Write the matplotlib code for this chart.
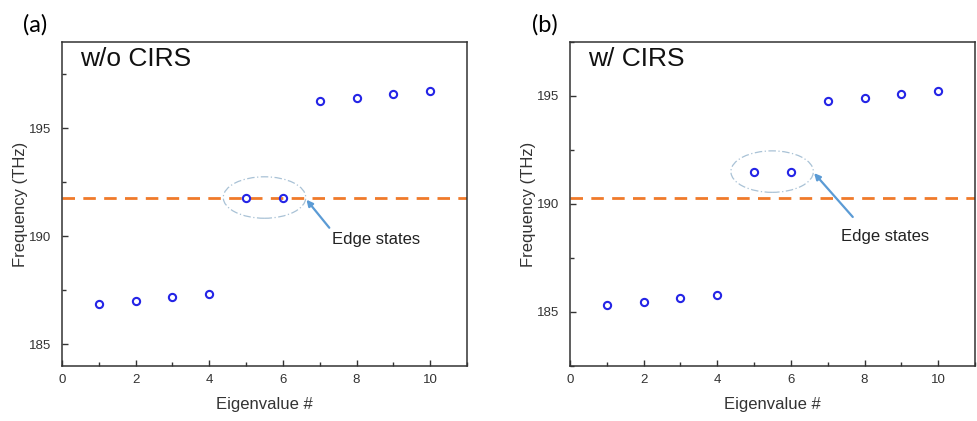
import matplotlib
matplotlib.use("Agg")
import matplotlib.pyplot as plt
from matplotlib.patches import Ellipse
from matplotlib.ticker import MultipleLocator

plt.rcParams["font.family"] = ["Liberation Sans", "DejaVu Sans"]

# data
eig_idx = [1, 2, 3, 4, 5, 6, 7, 8, 9, 10]
freq_wo = [186.85, 186.99, 187.19, 187.35, 191.79, 191.79, 196.28, 196.42, 196.61, 196.75]
freq_w = [185.31, 185.46, 185.65, 185.80, 191.48, 191.48, 194.77, 194.91, 195.09, 195.25]
line_wo = 191.78
line_w = 190.30
panel_tags = ["(a)", "(b)"]
panel_titles = ["w/o CIRS", "w/ CIRS"]
ylims = [(184, 199), (182.5, 197.5)]

fig = plt.figure(figsize=(9.77, 4.21), dpi=100)
axes = [fig.add_axes([62 / 977, 55 / 421, 405 / 977, 324 / 421]),
        fig.add_axes([570 / 977, 55 / 421, 405 / 977, 324 / 421])]

specs = [
    dict(freq=freq_wo, line=line_wo, ell=(5.5, 191.8), arrow_from=(7.26, 190.4),
         arrow_to=(6.64, 191.7), text=(7.34, 189.85)),
    dict(freq=freq_w, line=line_w, ell=(5.49, 191.5), arrow_from=(7.68, 189.4),
         arrow_to=(6.63, 191.43), text=(7.35, 188.5)),
]

for i, (ax, s) in enumerate(zip(axes, specs)):
    ax.axhline(s["line"], color="#f07a2a", lw=2.0, ls=(0, (4.5, 3.0)), zorder=1)
    ax.plot(eig_idx, s["freq"], "o", ms=5.2, mfc="none", mec="#2424e6", mew=1.5, zorder=3)
    ax.add_patch(Ellipse(s["ell"], 2.24, 1.92, fill=False, ec="#a9c2d6", lw=0.9,
                         ls=(0, (6, 2, 1, 2)), zorder=2))
    ax.annotate("", xy=s["arrow_to"], xytext=s["arrow_from"],
                arrowprops=dict(arrowstyle="-|>", color="#5b9bd5", lw=1.6,
                                mutation_scale=9, shrinkA=0, shrinkB=0))
    ax.text(*s["text"], "Edge states", fontsize=12, color="#222222", va="center", ha="left")
    ax.text(0.5, ylims[i][1] - 0.8, panel_titles[i], fontsize=19, color="#111111",
            va="center", ha="left")

    ax.set_xlim(0, 11)
    ax.set_ylim(*ylims[i])
    ax.xaxis.set_major_locator(MultipleLocator(2))
    ax.xaxis.set_minor_locator(MultipleLocator(1))
    ax.yaxis.set_major_locator(MultipleLocator(5))
    ax.yaxis.set_minor_locator(MultipleLocator(2.5))
    ax.tick_params(which="both", direction="in", top=False, right=False,
                   colors="#333333", labelsize=9.5, width=1.0)
    ax.tick_params(which="major", length=4.5)
    ax.tick_params(which="minor", length=3)
    ax.tick_params(axis="y", which="major", pad=8)
    ax.tick_params(axis="x", which="major", pad=6)
    for sp in ax.spines.values():
        sp.set_color("#333333")
        sp.set_linewidth(1.1)
    ax.set_xlabel("Eigenvalue #", fontsize=12, color="#333333")
    ax.set_ylabel("Frequency (THz)", fontsize=12, color="#333333")
    ax.xaxis.set_label_coords(0.5, -0.097)
    ax.yaxis.set_label_coords(-0.084, 0.5)

fig.text(23 / 977, 1 - 25 / 421, panel_tags[0], fontsize=17, family=["Lato", "DejaVu Sans"],
         va="center", ha="left")
fig.text(532 / 977, 1 - 25 / 421, panel_tags[1], fontsize=17, family=["Lato", "DejaVu Sans"],
         va="center", ha="left")

fig.savefig("out.png", dpi=100)
